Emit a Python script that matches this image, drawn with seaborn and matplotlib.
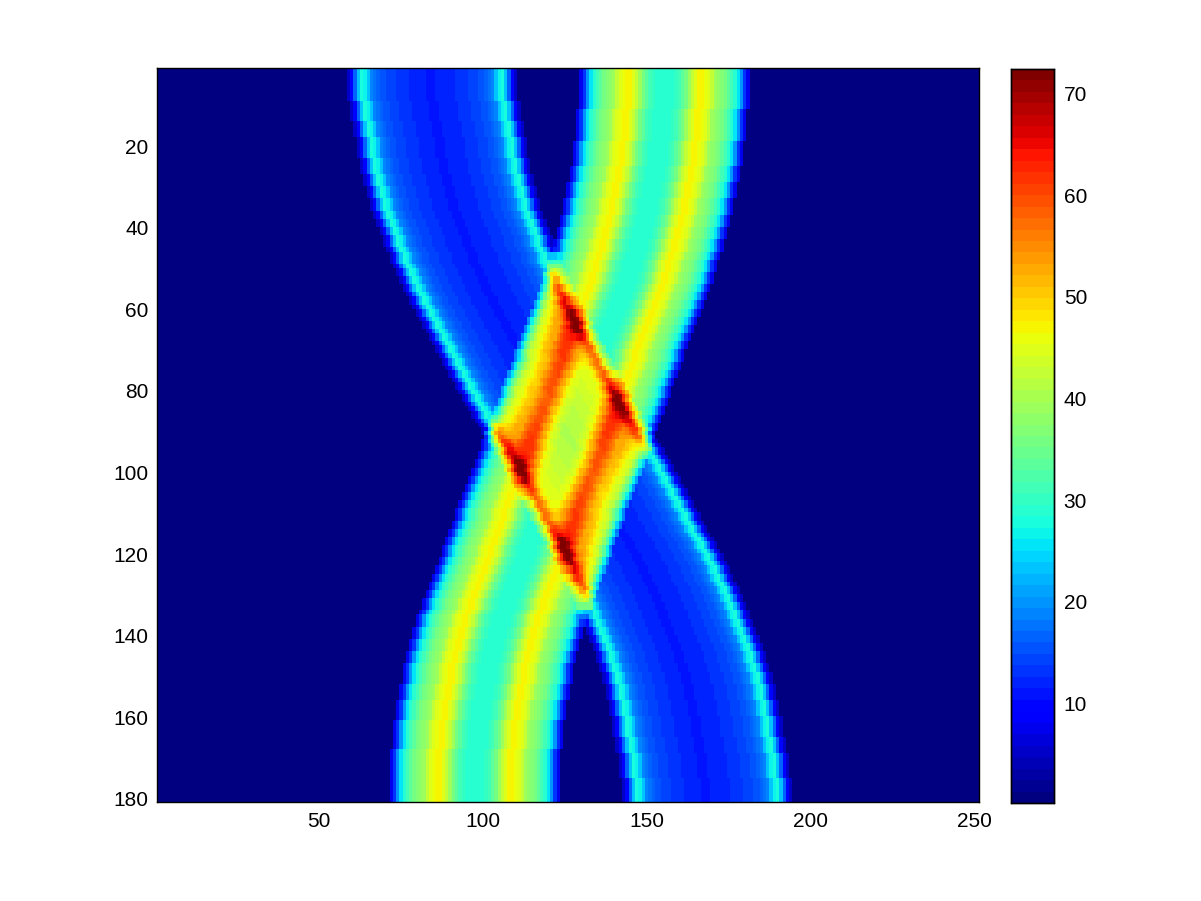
import numpy as np
import seaborn as sns
import matplotlib.pyplot as plt

# left edge (in columns) of the two bands, one value per row
band_a_edge = [
    58.7, 58.7, 58.8, 58.9, 59.0, 59.1, 59.3, 59.4, 59.6, 59.9,
    60.1, 60.3, 60.5, 60.8, 61.0, 61.2, 61.4, 61.6, 61.8, 62.0,
    62.2, 62.4, 62.6, 62.8, 63.1, 63.4, 63.7, 64.0, 64.3, 64.6,
    64.9, 65.2, 65.6, 66.0, 66.4, 66.8, 67.2, 67.6, 68.1, 68.6,
    69.0, 69.5, 70.0, 70.5, 71.0, 71.5, 72.0, 72.5, 73.0, 73.5,
    74.0, 74.6, 75.2, 75.8, 76.4, 77.0, 77.7, 78.3, 79.0, 79.7,
    80.3, 81.0, 81.7, 82.3, 83.0, 83.7, 84.4, 85.0, 85.7, 86.4,
    87.1, 87.8, 88.5, 89.2, 89.9, 90.5, 91.2, 91.8, 92.5, 93.1,
    93.8, 94.5, 95.2, 95.9, 96.6, 97.3, 98.0, 98.8, 99.6, 100.4,
    101.4, 102.2, 103.0, 103.8, 104.5, 105.2, 105.9, 106.6, 107.3, 108.0,
    108.7, 109.3, 110.0, 110.6, 111.3, 111.9, 112.6, 113.3, 114.0, 114.7,
    115.4, 116.1, 116.8, 117.4, 118.1, 118.8, 119.5, 120.1, 120.8, 121.5,
    122.1, 122.8, 123.5, 124.1, 124.8, 125.4, 126.0, 126.6, 127.2, 127.8,
    128.3, 128.8, 129.3, 129.8, 130.3, 130.8, 131.3, 131.8, 132.3, 132.8,
    133.2, 133.7, 134.2, 134.6, 135.0, 135.4, 135.8, 136.2, 136.6, 136.9,
    137.2, 137.5, 137.8, 138.1, 138.4, 138.7, 139.0, 139.2, 139.4, 139.6,
    139.8, 140.0, 140.2, 140.4, 140.6, 140.8, 141.0, 141.3, 141.5, 141.7,
    141.9, 142.2, 142.4, 142.5, 142.7, 142.8, 142.9, 143.0, 143.1, 143.1,
]
band_b_edge = [
    129.9, 129.9, 129.9, 129.8, 129.8, 129.8, 129.7, 129.6, 129.6, 129.5,
    129.4, 129.3, 129.2, 129.1, 129.0, 128.9, 128.7, 128.6, 128.4, 128.3,
    128.1, 127.9, 127.7, 127.5, 127.3, 127.1, 126.9, 126.7, 126.4, 126.2,
    125.9, 125.7, 125.4, 125.2, 124.9, 124.6, 124.3, 124.0, 123.7, 123.4,
    123.1, 122.7, 122.4, 122.0, 121.6, 121.2, 120.9, 120.5, 120.1, 119.7,
    119.4, 119.0, 118.6, 118.1, 117.7, 117.2, 116.8, 116.3, 115.8, 115.3,
    114.8, 114.3, 113.9, 113.4, 112.9, 112.4, 111.9, 111.4, 110.9, 110.4,
    110.0, 109.5, 109.0, 108.6, 108.1, 107.7, 107.2, 106.8, 106.3, 105.9,
    105.5, 105.0, 104.6, 104.1, 103.7, 103.2, 102.8, 102.3, 101.8, 101.4,
    100.9, 100.4, 100.0, 99.5, 99.0, 98.6, 98.1, 97.6, 97.2, 96.7,
    96.2, 95.8, 95.3, 94.9, 94.4, 93.9, 93.4, 93.0, 92.5, 92.1,
    91.6, 91.2, 90.7, 90.3, 89.8, 89.4, 88.9, 88.5, 88.0, 87.6,
    87.1, 86.7, 86.2, 85.8, 85.3, 84.9, 84.4, 83.9, 83.4, 82.9,
    82.4, 81.9, 81.5, 81.0, 80.5, 80.1, 79.7, 79.3, 79.0, 78.6,
    78.3, 78.0, 77.7, 77.4, 77.1, 76.8, 76.5, 76.3, 76.0, 75.8,
    75.5, 75.3, 75.0, 74.8, 74.6, 74.4, 74.2, 74.0, 73.8, 73.6,
    73.4, 73.3, 73.1, 73.0, 72.8, 72.7, 72.6, 72.5, 72.4, 72.3,
    72.2, 72.1, 72.1, 72.0, 71.9, 71.9, 71.9, 71.8, 71.8, 71.8,
]

# cross sections of each band, value per column counted from the left edge
band_a_profile = [5, 10, 16, 23, 28, 27, 23, 19, 17, 16, 15, 15, 14, 14, 14, 13, 13, 13, 13, 12,
                  12, 12, 12, 12, 11, 11, 11, 12, 12, 12, 12, 12, 12, 13, 13, 13, 13, 14, 14, 14,
                  15, 15, 16, 17, 19, 23, 27, 28, 23, 16, 10, 5]
band_b_profile = [7, 13, 20, 25, 29, 31, 33, 35, 37, 38, 39, 42, 44, 46, 47, 47, 45, 42, 39, 36,
                  33, 31, 30, 29, 29, 29, 29, 29, 29, 30, 31, 33, 36, 39, 42, 45, 47, 47, 46, 44,
                  42, 39, 38, 37, 35, 33, 31, 29, 25, 20, 13, 7]

n_cols = 251
background = 0.2
x_ticks = [50, 100, 150, 200, 250]
y_ticks = [20, 40, 60, 80, 100, 120, 140, 160, 180]
cbar_ticks = [10, 20, 30, 40, 50, 60, 70]

field = np.zeros((len(band_a_edge), n_cols)) + background
for edges, profile in [(band_a_edge, band_a_profile), (band_b_edge, band_b_profile)]:
    for row, edge in enumerate(edges):
        start = int(round(edge))
        for d, value in enumerate(profile):
            field[row, start + d - 1] += value

sns.set_theme(style="white")
plt.rcParams["font.family"] = ["Liberation Sans", "DejaVu Sans"]

W, H = 1201, 901
fig = plt.figure(figsize=(W / 100, H / 100), dpi=100)
ax = fig.add_axes([157 / W, 1 - 802 / H, (979 - 157) / W, (802 - 68) / H])
cax = fig.add_axes([1011 / W, 1 - 803 / H, (1054 - 1011) / W, (803 - 69) / H])

sns.heatmap(field, ax=ax, cbar_ax=cax, cmap=plt.get_cmap("jet", 64), vmin=0.2, vmax=72.4,
            xticklabels=False, yticklabels=False, rasterized=True)

ax.set_xticks([t - 0.5 for t in x_ticks], labels=[str(t) for t in x_ticks])
ax.set_yticks([t - 0.8 for t in y_ticks], labels=[str(t) for t in y_ticks])
ax.tick_params(direction="in", length=6, width=0.8, color="black", labelcolor="black",
               labelsize=15, top=True, right=True, bottom=True, left=True)
ax.tick_params(axis="x", labelrotation=0, pad=7)
ax.tick_params(axis="y", labelrotation=0, pad=6)
for spine in ax.spines.values():
    spine.set_visible(True)
    spine.set_color("black")
    spine.set_linewidth(1.0)

cax.set_yticks(cbar_ticks, labels=[str(t) for t in cbar_ticks])
cax.tick_params(direction="in", length=6, width=0.8, color="black", labelcolor="black",
                labelsize=15, left=True, right=True, pad=7)
for spine in cax.spines.values():
    spine.set_visible(True)
    spine.set_color("black")
    spine.set_linewidth(1.0)

fig.savefig("out.png", dpi=100)
